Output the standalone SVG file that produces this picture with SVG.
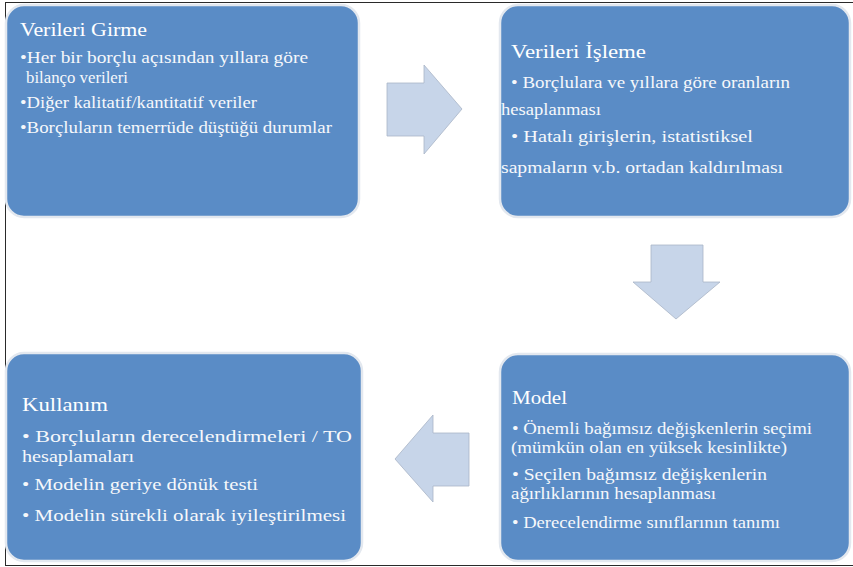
<svg xmlns="http://www.w3.org/2000/svg" width="853" height="567" viewBox="0 0 853 567">
<style>
.box{fill:#5a8cc6;stroke:#e3e8ef;stroke-width:2.5}
.arr{fill:#c7d5e9;stroke:#a9b5c6;stroke-width:0.8}
text{font-family:'Liberation Serif','DejaVu Serif','Noto Serif',serif;fill:#f6f8fb}
.t{font-size:18px;fill:#ffffff}
.b{font-size:16px}
</style>
<rect width="853" height="567" fill="#ffffff"/>
<g id="frame" fill="none" stroke="#2a2a2a" stroke-width="1">
<line x1="5.5" y1="2.5" x2="853" y2="2.5"/>
<line x1="5.5" y1="2" x2="5.5" y2="566"/>
<line x1="5.5" y1="565.5" x2="853" y2="565.5"/>
</g>
<g id="node-verileri-girme">
<rect class="box" x="6" y="5" width="353" height="212" rx="18"/>
<text class="t" x="20" y="36" textLength="127" lengthAdjust="spacingAndGlyphs">Verileri Girme</text>
<text class="b" x="20" y="63" textLength="288" lengthAdjust="spacingAndGlyphs">•Her bir borçlu açısından yıllara göre</text>
<text class="b" x="26" y="83" textLength="102" lengthAdjust="spacingAndGlyphs">bilanço verileri</text>
<text class="b" x="20" y="108" textLength="237" lengthAdjust="spacingAndGlyphs">•Diğer kalitatif/kantitatif veriler</text>
<text class="b" x="20" y="133" textLength="312" lengthAdjust="spacingAndGlyphs">•Borçluların temerrüde düştüğü durumlar</text>
</g>
<g id="node-verileri-isleme">
<rect class="box" x="500" y="5" width="350" height="212" rx="18"/>
<text class="t" x="511" y="58" textLength="135" lengthAdjust="spacingAndGlyphs">Verileri İşleme</text>
<text class="b" x="511" y="88" textLength="279" lengthAdjust="spacingAndGlyphs">• Borçlulara ve yıllara göre oranların</text>
<text class="b" x="501" y="115" textLength="100" lengthAdjust="spacingAndGlyphs">hesaplanması</text>
<text class="b" x="511" y="142" textLength="242" lengthAdjust="spacingAndGlyphs">• Hatalı girişlerin, istatistiksel</text>
<text class="b" x="501" y="173" textLength="282" lengthAdjust="spacingAndGlyphs">sapmaların v.b. ortadan kaldırılması</text>
</g>
<g id="node-model">
<rect class="box" x="500" y="354" width="350" height="207" rx="18"/>
<text class="t" x="512" y="404" textLength="55" lengthAdjust="spacingAndGlyphs">Model</text>
<text class="b" x="512" y="434" textLength="300" lengthAdjust="spacingAndGlyphs">• Önemli bağımsız değişkenlerin seçimi</text>
<text class="b" x="511" y="453" textLength="276" lengthAdjust="spacingAndGlyphs">(mümkün olan en yüksek kesinlikte)</text>
<text class="b" x="512" y="480" textLength="255" lengthAdjust="spacingAndGlyphs">• Seçilen bağımsız değişkenlerin</text>
<text class="b" x="511" y="499" textLength="205" lengthAdjust="spacingAndGlyphs">ağırlıklarının hesaplanması</text>
<text class="b" x="512" y="528" textLength="268" lengthAdjust="spacingAndGlyphs">• Derecelendirme sınıflarının tanımı</text>
</g>
<g id="node-kullanim">
<rect class="box" x="6" y="353" width="356" height="208" rx="18"/>
<text class="t" x="22" y="411" textLength="86" lengthAdjust="spacingAndGlyphs">Kullanım</text>
<text class="b" x="22" y="442" textLength="330" lengthAdjust="spacingAndGlyphs">• Borçluların derecelendirmeleri / TO</text>
<text class="b" x="22" y="462" textLength="112" lengthAdjust="spacingAndGlyphs">hesaplamaları</text>
<text class="b" x="22" y="490" textLength="236" lengthAdjust="spacingAndGlyphs">• Modelin geriye dönük testi</text>
<text class="b" x="22" y="521" textLength="324" lengthAdjust="spacingAndGlyphs">• Modelin sürekli olarak iyileştirilmesi</text>
</g>
<g id="connectors">
<polygon class="arr" points="387,83 424,83 424,65 462,109 424,154 424,136 387,136"/>
<polygon class="arr" points="651,245 703,245 703,282 720,282 676,319 633,282 651,282"/>
<polygon class="arr" points="469,433 433,433 433,415 395,459 433,502 433,486 469,486"/>
</g>
</svg>
